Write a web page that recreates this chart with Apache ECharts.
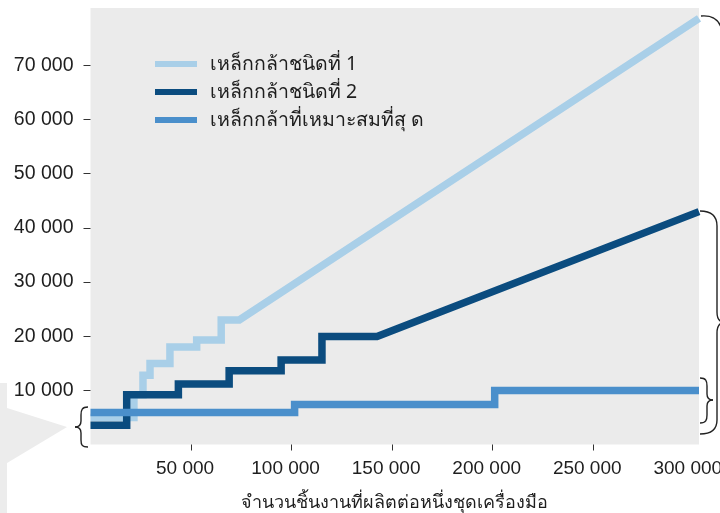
<!DOCTYPE html>
<html>
<head>
<meta charset="utf-8">
<style>
  html, body { margin: 0; padding: 0; background: #ffffff; }
  #chart { width: 720px; height: 513px; }
</style>
<script src="https://cdn.jsdelivr.net/npm/echarts@6/dist/echarts.min.js"></script>
</head>
<body>
<div id="chart"></div>
<script>
// Tool cost vs. number of parts produced per tool set
const seriesNames = ['เหล็กกล้าชนิดที่ 1', 'เหล็กกล้าชนิดที่ 2', 'เหล็กกล้าที่เหมาะสมที่สุ ด'];
const xAxisTitle = 'จำนวนชิ้นงานที่ผลิตต่อหนึ่งชุดเครื่องมือ';

// Corner points [parts, cost] of each cost curve
const steel1Points = [
  [0, 5000], [21600, 5000], [21600, 9200], [26100, 9200],
  [26100, 12800], [29600, 12800], [29600, 14950], [39500, 14950],
  [39500, 18000], [52800, 18000], [52800, 19300], [65000, 19300],
  [65000, 23000], [74000, 23000], [302600, 78700]
];
const steel2Points = [
  [0, 3550], [18000, 3550], [18000, 9180], [43700, 9180],
  [43700, 11150], [68950, 11150], [68950, 13600], [94800, 13600],
  [94800, 15580], [115100, 15580], [115100, 19960], [142500, 19960],
  [302600, 43000]
];
const optimalPoints = [
  [0, 5930], [101500, 5930], [101500, 7370], [201000, 7370],
  [201000, 9990], [302600, 9990]
];

const xTickValues = [50000, 100000, 150000, 200000, 250000];
const xLabelValues = [50000, 100000, 150000, 200000, 250000, 300000];
const yTickValues = [10000, 20000, 30000, 40000, 50000, 60000, 70000];

const colors = ['#a9cfe8', '#0b4c7f', '#4a8fcb'];

const fmt = v => String(v).replace(/\B(?=(\d{3})+(?!\d))/g, ' ');
const numFont = '"Liberation Sans", Arial, sans-serif';
const thaiFont = '"Noto Sans", "DejaVu Sans", "Liberation Sans", sans-serif';
const textColor = '#1e1e1e';

function lineSeries(name, data, color, z) {
  return {
    name: name,
    type: 'line',
    data: data,
    symbol: 'none',
    z: z,
    animation: false,
    lineStyle: { color: color, width: 7.5, join: 'miter', cap: 'butt' },
    itemStyle: { color: color }
  };
}

// A brace outline: start point followed by cubic ['C', c1x, c1y, c2x, c2y, x, y] and line ['L', x, y] steps
const bracePen = { stroke: '#222222', lineWidth: 1.4, fill: null };
function braceElements(start, steps) {
  const out = [];
  let px = start[0], py = start[1];
  steps.forEach(s => {
    if (s[0] === 'C') {
      out.push({
        type: 'bezierCurve', silent: true,
        shape: { x1: px, y1: py, cpx1: s[1], cpy1: s[2], cpx2: s[3], cpy2: s[4], x2: s[5], y2: s[6] },
        style: bracePen
      });
      px = s[5]; py = s[6];
    } else {
      out.push({
        type: 'line', silent: true,
        shape: { x1: px, y1: py, x2: s[1], y2: s[2] },
        style: bracePen
      });
      px = s[1]; py = s[2];
    }
  });
  return out;
}

const leftBrace = braceElements([88, 407], [
  ['C', 82, 407, 81, 410, 81, 415], ['L', 81, 421],
  ['C', 81, 425, 79, 427, 75, 427], ['C', 79, 427, 81, 429, 81, 433],
  ['L', 81, 440], ['C', 81, 445, 82, 447, 88, 447]
]);
const topRightBrace = braceElements([701, 16], [
  ['C', 712, 15, 718, 19, 721, 27]
]);
const midRightBrace = braceElements([700, 211], [
  ['C', 712, 211, 717, 216, 717, 226], ['L', 717, 312],
  ['C', 717, 318, 719, 322, 724, 322], ['C', 719, 323, 717, 327, 717, 333],
  ['L', 717, 420], ['C', 717, 429, 712, 434, 700, 434]
]);
const lowRightBrace = braceElements([700, 378], [
  ['C', 706, 378, 707, 381, 707, 386], ['L', 707, 394],
  ['C', 707, 398, 709, 400, 713, 400], ['C', 709, 400, 707, 402, 707, 406],
  ['L', 707, 415], ['C', 707, 420, 706, 423, 700, 423]
]);

const chart = echarts.init(document.getElementById('chart'), null, { renderer: 'canvas' });
chart.setOption({
  backgroundColor: '#ffffff',
  animation: false,
  grid: {
    left: 90.5, top: 8, right: 21, bottom: 68.5,
    containLabel: false,
    outerBoundsMode: 'none',
    show: true, backgroundColor: '#ebebeb', borderWidth: 0
  },
  legend: {
    orient: 'vertical',
    left: 150, top: 49,
    itemGap: 8,
    itemWidth: 42, itemHeight: 6,
    icon: 'rect',
    textStyle: { fontFamily: thaiFont, fontSize: 19.5, color: textColor, padding: [0, 0, 0, 8] },
    data: seriesNames
  },
  xAxis: {
    type: 'value',
    min: 0, max: 302600,
    name: xAxisTitle,
    nameLocation: 'middle',
    nameGap: 49,
    nameTextStyle: { fontFamily: thaiFont, fontSize: 18, color: textColor },
    axisLine: { show: false },
    splitLine: { show: false },
    axisTick: { show: true, length: 6, customValues: xTickValues, lineStyle: { color: '#333333', width: 1 } },
    axisLabel: {
      customValues: xLabelValues,
      formatter: fmt, margin: 15,
      padding: [0, 12, 0, 0],
      fontFamily: numFont, fontSize: 19, color: textColor
    }
  },
  yAxis: {
    type: 'value',
    min: 0, max: 80600,
    axisLine: { show: false },
    splitLine: { show: false },
    axisTick: { show: true, length: 7, customValues: yTickValues, lineStyle: { color: '#333333', width: 1 } },
    axisLabel: {
      customValues: yTickValues,
      formatter: fmt, margin: 17,
      fontFamily: numFont, fontSize: 19.5, color: textColor
    }
  },
  series: [
    lineSeries(seriesNames[0], steel1Points, colors[0], 2),
    lineSeries(seriesNames[1], steel2Points, colors[1], 3),
    lineSeries(seriesNames[2], optimalPoints, colors[2], 4)
  ],
  graphic: [
    // pointer wedge on the left edge
    {
      type: 'polygon', z: -1, silent: true,
      shape: { points: [[0, 383], [7, 383], [7, 408], [67, 427], [7, 463], [7, 513], [0, 513]] },
      style: { fill: '#ececec' }
    }
  ].concat(leftBrace, topRightBrace, midRightBrace, lowRightBrace)
});
</script>
</body>
</html>
